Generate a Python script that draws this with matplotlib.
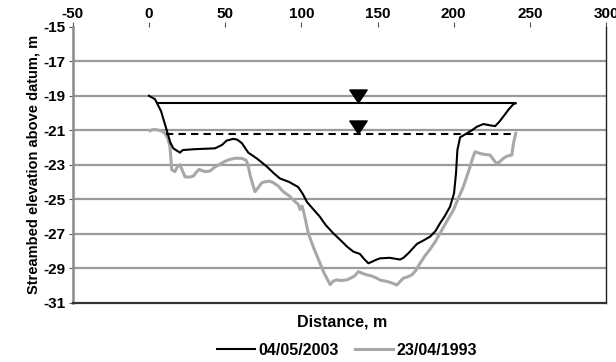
import matplotlib
matplotlib.use("Agg")
import matplotlib.pyplot as plt
from matplotlib.path import Path
from matplotlib.lines import Line2D
import matplotlib.transforms as mtransforms

plt.rcParams['font.family'] = ['Liberation Sans', 'DejaVu Sans']
plt.rcParams['font.weight'] = 'bold'

# 04/05/2003 streambed profile
x_2003 = [0, 4, 8, 11.7, 14, 16, 20.4, 22.2, 30, 43.4, 48, 51, 55.4, 58, 61, 65.2,
          71, 77.3, 82, 86, 92, 98, 101, 103.6, 108, 112, 116, 121, 126, 130,
          134.1, 136, 138.5, 141, 144, 147, 149.5, 151.7, 158, 164.8, 167, 170.2,
          175.8, 180, 184.5, 188, 191, 194, 197.6, 200.2, 201.5, 202.4, 204.2,
          208.6, 212, 215.1, 219.5, 224, 227.2, 230, 232.6, 236, 239.2, 240.7]
y_2003 = [-19.0, -19.2, -19.9, -21.0, -21.7, -22.05, -22.3, -22.15, -22.1, -22.05,
          -21.85, -21.6, -21.5, -21.55, -21.75, -22.3, -22.65, -23.1, -23.5, -23.8,
          -24.0, -24.3, -24.7, -25.15, -25.6, -26.0, -26.5, -26.98, -27.4, -27.75,
          -28.04, -28.1, -28.18, -28.45, -28.72, -28.6, -28.5, -28.43, -28.4,
          -28.5, -28.4, -28.14, -27.6, -27.4, -27.17, -26.85, -26.4, -26.0, -25.43,
          -24.66, -23.5, -22.15, -21.41, -21.18, -21.0, -20.8, -20.64, -20.72,
          -20.76, -20.5, -20.2, -19.8, -19.48, -19.44]

# 23/04/1993 streambed profile
x_1993 = [0.7, 3, 6.2, 8.5, 10.6, 12.5, 13.8, 15, 17.1, 18.8, 20.4, 22, 23.7, 26.5,
          29.2, 31, 33, 35, 36.8, 40.1, 43, 46.7, 50, 53.2, 57, 60.9, 63.7, 65,
          66.4, 68, 69.6, 72, 74, 76.2, 79, 81.6, 85, 88.2, 92, 95.9, 98, 99.2,
          100.5, 102, 104.6, 108, 112.3, 115, 118.9, 121, 123.2, 126, 129.8, 133,
          135, 137.4, 140, 143, 146, 149.5, 152, 155, 158, 160, 162.6, 164, 167,
          170, 172.5, 175, 177.9, 181, 184.5, 188, 191, 195, 199.8, 203, 206.3,
          208.5, 210.7, 212.5, 214, 217.3, 220, 223.9, 226, 228.3, 230.5, 232.6,
          235, 238.1, 239.2, 240.7]
y_1993 = [-21.03, -20.95, -20.99, -21.05, -21.18, -21.5, -21.96, -23.3, -23.4, -23.1,
          -23.0, -23.35, -23.7, -23.72, -23.66, -23.45, -23.27, -23.35, -23.4,
          -23.37, -23.15, -22.96, -22.8, -22.69, -22.62, -22.63, -22.73, -23.0,
          -23.6, -24.1, -24.57, -24.3, -24.05, -23.99, -23.95, -24.04, -24.25,
          -24.57, -24.8, -25.14, -25.3, -25.6, -25.4, -25.9, -26.98, -27.8, -28.72,
          -29.3, -29.95, -29.75, -29.68, -29.72, -29.68, -29.55, -29.45, -29.2,
          -29.3, -29.39, -29.45, -29.58, -29.7, -29.75, -29.82, -29.88, -29.98,
          -29.85, -29.58, -29.5, -29.39, -29.15, -28.72, -28.3, -27.9, -27.45,
          -26.98, -26.35, -25.63, -24.95, -24.28, -23.7, -23.12, -22.6, -22.25,
          -22.35, -22.4, -22.44, -22.7, -22.95, -22.8, -22.63, -22.5, -22.44,
          -21.76, -21.18]

# water levels
wl_2003_x = [6, 240.5]
wl_2003_y = [-19.4, -19.4]
wl_1993_x = [11, 241]
wl_1993_y = [-21.2, -21.2]
marker_x = 137

x_ticks = [-50, 0, 50, 100, 150, 200, 250, 300]
y_ticks = [-15, -17, -19, -21, -23, -25, -27, -29, -31]

fig = plt.figure(figsize=(6.16, 3.62), dpi=100)
ax = fig.add_axes([0.118, 0.164, 0.866, 0.762])
ax.set_xlim(-50, 300)
ax.set_ylim(-31, -15)

for yv in y_ticks[1:-1]:
    ax.axhline(yv, color='#9a9a9a', lw=1.6, zorder=1)

ax.plot(x_1993, y_1993, color='#a8a8a8', lw=2.2, zorder=2, solid_joinstyle='round')
ax.plot(x_2003, y_2003, color='black', lw=1.5, zorder=3)
ax.plot(wl_2003_x, wl_2003_y, color='black', lw=1.5, zorder=3)
ax.plot(wl_1993_x, wl_1993_y, color='black', lw=1.5, ls=(0, (3.5, 2.5)), zorder=3)

tri = Path([(-1, 0.75), (1, 0.75), (0, -0.75), (-1, 0.75)],
           [Path.MOVETO, Path.LINETO, Path.LINETO, Path.CLOSEPOLY])
trans = mtransforms.offset_copy(ax.transData, fig=fig, x=0, y=4.8, units='points')
ax.plot([marker_x], [wl_2003_y[0]], marker=tri, ms=12.5, color='black', ls='none',
        transform=trans, zorder=4)
ax.plot([marker_x], [wl_1993_y[0]], marker=tri, ms=12.5, color='black', ls='none',
        transform=trans, zorder=4)

ax.xaxis.tick_top()
ax.set_xticks(x_ticks)
ax.set_xticklabels([str(v) for v in x_ticks])
ax.set_yticks(y_ticks)
ax.set_yticklabels([str(v) for v in y_ticks])
ax.tick_params(axis='x', direction='out', length=3.5, width=0.8, color='#555555',
               labelsize=11, pad=1)
ax.tick_params(axis='y', direction='out', length=3, width=0.8, color='#555555',
               labelsize=11, pad=2)
for lbl in ax.get_xticklabels() + ax.get_yticklabels():
    lbl.set_fontweight('bold')

ax.spines['top'].set_visible(False)
ax.spines['left'].set_color('#8a8a8a')
ax.spines['left'].set_linewidth(1.8)
ax.spines['right'].set_color('#222222')
ax.spines['right'].set_linewidth(1.0)
ax.spines['bottom'].set_color('#333333')
ax.spines['bottom'].set_linewidth(1.6)

ax.set_ylabel('Streambed elevation above datum, m', fontsize=10.5, fontweight='bold',
              labelpad=2)
fig.text(0.556, 0.11, 'Distance, m', ha='center', va='center', fontsize=11.5,
         fontweight='bold')

handles = [Line2D([], [], color='black', lw=1.5),
           Line2D([], [], color='#a8a8a8', lw=2.2)]
fig.legend(handles, ['04/05/2003', '23/04/1993'], loc='center',
           bbox_to_anchor=(0.563, 0.033), ncol=2, frameon=False,
           handlelength=2.4, handletextpad=0.2, columnspacing=1.0,
           prop={'weight': 'bold', 'size': 11.5})

fig.savefig('out.png', dpi=100, facecolor='white')
